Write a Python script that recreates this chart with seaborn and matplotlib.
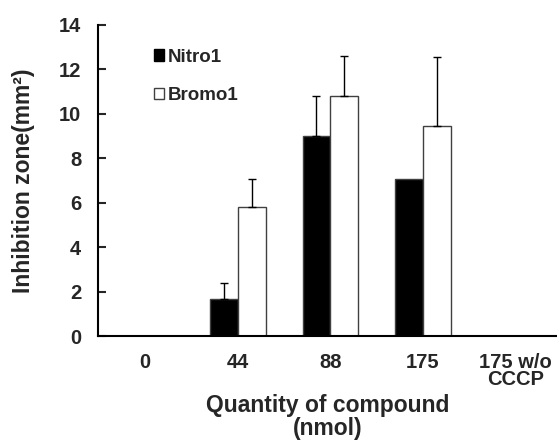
import numpy as np
import pandas as pd
import matplotlib
matplotlib.use("Agg")
import matplotlib.pyplot as plt
from matplotlib.patches import Patch
import seaborn as sns

# data
categories = ["0", "44", "88", "175", "175 w/o\nCCCP"]
nitro = [0, 1.65, 9.0, 7.05, 0]
bromo = [0, 5.8, 10.78, 9.45, 0]
nitro_err = [0, 0.75, 1.78, 0, 0]
bromo_err = [0, 1.28, 1.8, 3.1, 0]

sns.set_style("white")
plt.rcParams["font.family"] = ["Liberation Sans", "DejaVu Sans"]
plt.rcParams["font.weight"] = "bold"

df = pd.DataFrame({
    "Quantity": categories * 2,
    "Zone": nitro + bromo,
    "Compound": ["Nitro1"] * 5 + ["Bromo1"] * 5,
})

fig = plt.figure(figsize=(5.57, 4.44), dpi=100)
ax = fig.add_axes([0.176, 0.243, 0.824, 0.701])

sns.barplot(data=df, x="Quantity", y="Zone", hue="Compound",
            palette={"Nitro1": "black", "Bromo1": "white"},
            width=0.6, errorbar=None, legend=False, ax=ax,
            edgecolor="#404040", linewidth=1)

# one-sided error bars at the bar centres
for cont, err in zip(ax.containers, [nitro_err, bromo_err]):
    xs = [p.get_x() + p.get_width() / 2 for p in cont.patches]
    hs = [p.get_height() for p in cont.patches]
    e = np.array(err)
    mask = e > 0
    ax.errorbar(np.array(xs)[mask], np.array(hs)[mask],
                yerr=[np.zeros(mask.sum()), e[mask]],
                fmt="none", ecolor="black", elinewidth=1, capsize=3,
                capthick=1)

ax.set_ylim(0, 14)
ax.set_yticks(range(0, 15, 2))
ax.set_xlim(-0.51, 4.45)

for s in ["top", "right"]:
    ax.spines[s].set_visible(False)
for s in ["left", "bottom"]:
    ax.spines[s].set_color("black")
    ax.spines[s].set_linewidth(1.5)

ax.tick_params(axis="y", direction="in", length=6, width=1.5,
               labelsize=14.5, left=True, pad=12)
ax.tick_params(axis="x", length=0, labelsize=14.5, pad=12)
for lab in ax.get_xticklabels() + ax.get_yticklabels():
    lab.set_fontweight("bold")
ax.set_xticklabels(categories, linespacing=0.85)

ax.set_ylabel("Inhibition zone(mm²)", fontsize=16.5, fontweight="bold",
              labelpad=17)
ax.set_xlabel("Quantity of compound\n(nmol)", fontsize=16.5,
              fontweight="bold", labelpad=4, linespacing=1.0)

handles = [Patch(facecolor="black", edgecolor="black", label="Nitro1"),
           Patch(facecolor="white", edgecolor="#404040", label="Bromo1")]
leg = ax.legend(handles=handles, loc="upper left",
                bbox_to_anchor=(0.085, 0.978), frameon=False,
                handlelength=0.55, handleheight=0.55, handletextpad=0.2,
                labelspacing=1.15, prop={"weight": "bold", "size": 13.5})

fig.savefig("out.png", dpi=100)
